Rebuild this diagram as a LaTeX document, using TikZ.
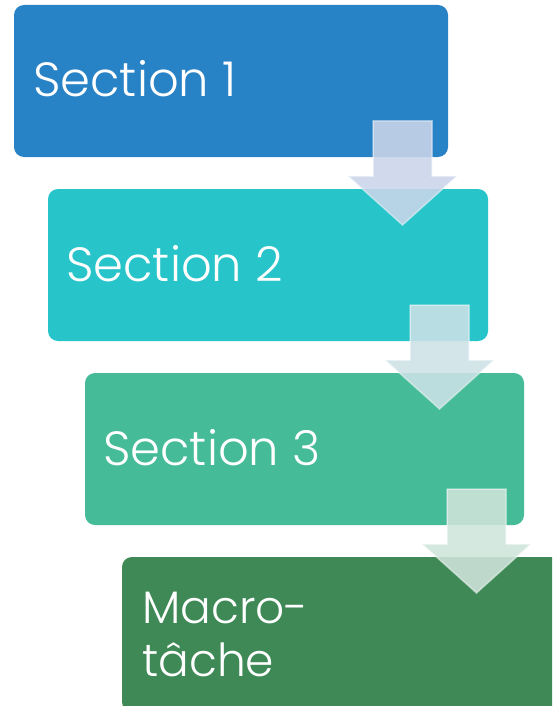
\documentclass[tikz,border=0pt]{standalone}
\usepackage{fontspec}
\setmainfont{Poppins}[UprightFont={* Light}]
\begin{document}
\begin{tikzpicture}[x=1pt,y=-1pt,
  box/.style={draw=none,rounded corners=10pt},
  lbl/.style={anchor=base west,text=white,inner sep=0pt,font=\fontsize{48}{53}\selectfont},
  flowarrow/.style={draw=white,draw opacity=0.45,line width=1.5pt,fill opacity=0.88}]
\definecolor{cA}{HTML}{2882C6}
\definecolor{cB}{HTML}{27C4CA}
\definecolor{cC}{HTML}{45BB98}
\definecolor{cD}{HTML}{3E8956}
\definecolor{aA}{HTML}{CBD6EA}
\definecolor{aB}{HTML}{CDE2E7}
\definecolor{aC}{HTML}{D0E5DC}
\path[use as bounding box] (0,0) rectangle (552,706);
\clip (0,0) rectangle (552,706);
\fill[white] (0,0) rectangle (552,706);
% boxes
\fill[box,cA] (14,5) rectangle (448,157);
\fill[box,cB] (48,189) rectangle (488,341);
\fill[box,cC] (85,373) rectangle (524,525);
\fill[box,cD] (122,557) rectangle (566,712);
\node[lbl] (t1) at (33,97) {Section 1};
\node[lbl] (t2) at (66,281) {Section 2};
\node[lbl] (t3) at (103,465) {Section 3};
\node[lbl,font=\fontsize{45.5}{53}\selectfont] (t4) at (142,623) {Macro-};
\node[lbl,font=\fontsize{45.5}{53}\selectfont] (t5) at (142,676) {tâche};
% arrows
\foreach \dx/\dy/\col in {0/0/aA,37/184/aB,74/368/aC}{
  \begin{scope}[shift={(\dx,\dy)}]
  \filldraw[flowarrow,fill=\col] (373,121) -- (432,121) -- (432,176) -- (457,176)
     -- (402.5,225) -- (348,176) -- (373,176) -- cycle;
  \end{scope}
}
\end{tikzpicture}
\end{document}
